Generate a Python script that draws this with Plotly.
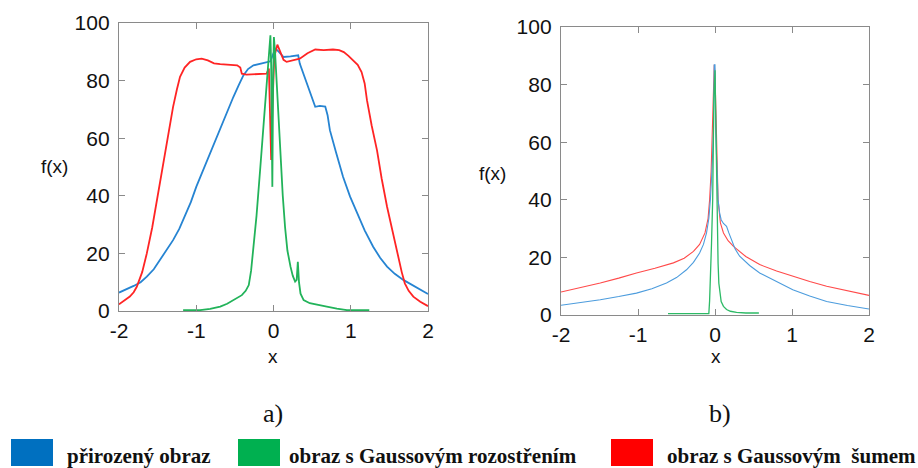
import plotly.graph_objects as go

# ---- Data: panel a) ----
a_blue_x = [-2.0, -1.9, -1.81, -1.72, -1.64, -1.55, -1.47, -1.38, -1.30, -1.22, -1.15, -1.07, -1.0, -0.91, -0.82, -0.73, -0.65, -0.58, -0.52, -0.45, -0.39, -0.33, -0.26, -0.15, -0.04, 0.0, 0.03, 0.07, 0.13, 0.22, 0.32, 0.34, 0.44, 0.54, 0.60, 0.67, 0.70, 0.73, 0.81, 0.90, 0.99, 1.08, 1.18, 1.29, 1.38, 1.47, 1.57, 1.68, 1.84, 2.0]
a_blue_y = [6.4, 7.5, 8.7, 10.0, 11.9, 14.5, 17.7, 21.0, 24.6, 28.5, 32.7, 37.8, 43.1, 49.0, 54.7, 60.5, 66.2, 70.7, 74.3, 78.4, 81.8, 84.0, 85.3, 86.0, 86.7, 89.5, 91.0, 90.0, 88.2, 88.4, 88.8, 85.9, 78.5, 70.9, 71.2, 71.0, 68.0, 62.8, 55.0, 46.6, 39.8, 33.9, 28.0, 22.3, 18.5, 15.4, 12.9, 10.8, 8.3, 5.9]

a_red_x = [-2.0, -1.92, -1.86, -1.81, -1.77, -1.70, -1.64, -1.57, -1.51, -1.44, -1.38, -1.34, -1.30, -1.25, -1.21, -1.15, -1.08, -1.0, -0.93, -0.85, -0.77, -0.69, -0.55, -0.47, -0.43, -0.41, -0.35, -0.26, -0.09, -0.06, -0.045, -0.03, -0.015, -0.005, 0.01, 0.05, 0.09, 0.13, 0.17, 0.25, 0.34, 0.44, 0.54, 0.65, 0.77, 0.85, 0.91, 0.97, 1.03, 1.09, 1.14, 1.18, 1.21, 1.27, 1.34, 1.40, 1.47, 1.54, 1.60, 1.66, 1.70, 1.75, 1.81, 1.90, 2.0]
a_red_y = [2.3, 3.8, 5.0, 6.5, 8.4, 13.5, 20.0, 29.0, 38.5, 49.5, 59.3, 65.5, 70.9, 77.0, 81.3, 84.5, 86.5, 87.4, 87.6, 87.0, 86.0, 85.7, 85.5, 85.3, 84.5, 82.4, 82.1, 82.2, 82.4, 84.2, 70.0, 52.4, 70.0, 80.0, 88.2, 92.5, 90.0, 87.2, 86.5, 87.0, 87.6, 89.5, 90.8, 90.6, 90.8, 90.6, 89.9, 88.6, 87.1, 85.5, 83.0, 79.0, 73.2, 64.5, 55.8, 46.0, 36.2, 27.5, 20.0, 13.5, 9.6, 7.0, 5.0, 3.2, 1.7]

a_green_x = [-1.17, -1.05, -0.95, -0.82, -0.69, -0.60, -0.52, -0.45, -0.41, -0.36, -0.32, -0.29, -0.26, -0.22, -0.17, -0.13, -0.09, -0.06, -0.04, -0.03, -0.015, -0.005, 0.005, 0.02, 0.04, 0.065, 0.09, 0.12, 0.15, 0.18, 0.22, 0.25, 0.28, 0.30, 0.315, 0.33, 0.35, 0.39, 0.47, 0.58, 0.69, 0.82, 0.95, 1.10, 1.24]
a_green_y = [0.3, 0.3, 0.3, 0.7, 1.5, 2.5, 3.8, 4.8, 5.5, 7.0, 9.0, 14.0, 21.2, 33.0, 50.1, 64.0, 79.0, 90.0, 95.7, 85.0, 43.1, 80.0, 95.1, 90.0, 79.0, 65.0, 52.0, 40.0, 29.0, 21.0, 15.4, 12.2, 10.2, 10.8, 17.1, 10.0, 6.0, 3.8, 2.7, 2.0, 1.5, 0.8, 0.3, 0.3, 0.3]

# ---- Data: panel b) ----
b_red_x = [-2.0, -1.75, -1.49, -1.25, -1.02, -0.78, -0.54, -0.40, -0.28, -0.20, -0.13, -0.09, -0.07, -0.05, -0.035, -0.02, -0.01, 0.0, 0.01, 0.025, 0.04, 0.07, 0.11, 0.17, 0.24, 0.40, 0.58, 0.80, 1.01, 1.23, 1.45, 1.72, 2.0]
b_red_y = [8.0, 9.5, 11.1, 12.8, 14.6, 16.2, 18.1, 19.7, 22.1, 24.5, 28.5, 33.5, 40.0, 50.0, 62.0, 75.0, 86.9, 84.0, 72.0, 52.0, 40.0, 32.0, 28.5, 25.8, 23.8, 20.3, 17.5, 15.3, 13.4, 11.6, 10.0, 8.4, 6.8]

b_blue_x = [-2.0, -1.75, -1.49, -1.25, -1.02, -0.82, -0.63, -0.50, -0.37, -0.28, -0.20, -0.15, -0.11, -0.08, -0.06, -0.04, -0.02, -0.01, 0.0, 0.01, 0.025, 0.04, 0.06, 0.08, 0.11, 0.15, 0.18, 0.21, 0.26, 0.32, 0.45, 0.58, 0.80, 1.01, 1.23, 1.45, 1.72, 2.0]
b_blue_y = [3.4, 4.3, 5.3, 6.4, 7.6, 9.1, 11.1, 13.0, 15.7, 18.3, 21.5, 24.5, 28.5, 33.5, 40.0, 50.0, 63.2, 86.9, 86.9, 63.2, 48.0, 40.0, 35.5, 33.1, 31.8, 30.8, 28.5, 26.2, 23.0, 20.4, 17.2, 14.6, 11.5, 8.8, 6.6, 4.7, 3.3, 2.1]

b_green_x = [-0.61, -0.08, -0.07, -0.06, -0.045, -0.03, -0.015, 0.0, 0.01, 0.02, 0.03, 0.04, 0.05, 0.065, 0.08, 0.11, 0.15, 0.20, 0.28, 0.40, 0.57]
b_green_y = [0.5, 0.5, 5.0, 11.0, 25.0, 40.0, 75.0, 85.0, 63.0, 42.0, 28.5, 18.0, 11.0, 7.0, 4.7, 3.0, 1.9, 1.3, 0.9, 0.7, 0.7]

x_ticks = [-2, -1, 0, 1, 2]
x_tick_labels = ["-2", "-1", "0", "1", "2"]
y_ticks = [0, 20, 40, 60, 80, 100]

legend_labels = ["přirozený obraz", "obraz s Gaussovým rozostřením", "obraz s Gaussovým\u00a0 šumem"]
legend_colors = ["#0070C0", "#00B050", "#FF0000"]

W, H = 918, 468
fig = go.Figure()

def add(x, y, color, width, xa, ya):
    fig.add_trace(go.Scatter(x=x, y=y, mode="lines", line=dict(color=color, width=width),
                             xaxis=xa, yaxis=ya, showlegend=False, hoverinfo="skip"))

add(a_blue_x, a_blue_y, "#2684D2", 1.8, "x", "y")
add(a_red_x, a_red_y, "#FF2424", 1.8, "x", "y")
add(a_green_x, a_green_y, "#22B35A", 1.8, "x", "y")

add(b_red_x, b_red_y, "#FF4A4A", 1.1, "x2", "y2")
add(b_blue_x, b_blue_y, "#4C9CDD", 1.1, "x2", "y2")
add(b_green_x, b_green_y, "#2DBA66", 1.3, "x2", "y2")

tickfont = dict(family="Liberation Sans, Arial, sans-serif", size=21, color="#111")
axis_common = dict(showline=True, linecolor="#8a8a8a", linewidth=1.3, mirror="ticks",
                   ticks="inside", ticklen=6, tickcolor="#8a8a8a", tickwidth=1.3,
                   showgrid=False, zeroline=False, tickfont=tickfont, automargin=False)

def px(v):
    return v / W

def py(v):
    return 1 - v / H

xa = dict(range=[-2, 2], tickvals=x_ticks, ticktext=x_tick_labels, ticklabelstandoff=1, **axis_common)
ya = dict(range=[0, 100], tickvals=y_ticks, ticklabelstandoff=4, **axis_common)

fig.update_layout(
    template="none",
    width=W, height=H, margin=dict(l=0, r=0, t=0, b=0, pad=0),
    paper_bgcolor="white", plot_bgcolor="white",
    xaxis=dict(domain=[px(119), px(428)], anchor="y", **xa),
    yaxis=dict(domain=[py(311), py(23)], anchor="x", **ya),
    xaxis2=dict(domain=[px(561), px(869)], anchor="y2", **xa),
    yaxis2=dict(domain=[py(315), py(27)], anchor="x2", **ya),
)

ann = []
labfont = dict(family="Liberation Sans, Arial, sans-serif", size=19, color="#111")
ann.append(dict(x=px(54), y=py(166), text="f(x)", font=labfont))
ann.append(dict(x=px(492), y=py(173), text="f(x)", font=labfont))
ann.append(dict(x=px(273), y=py(356), text="x", font=labfont))
ann.append(dict(x=px(716), y=py(356), text="x", font=labfont))
capfont = dict(family="Liberation Serif, Times New Roman, serif", size=26, color="#111")
ann.append(dict(x=px(273), y=py(413), text="a)", font=capfont))
ann.append(dict(x=px(720), y=py(413), text="b)", font=capfont))

legfont = dict(family="Liberation Serif, Times New Roman, serif", size=21, color="#111")
sq_x = [11, 238, 611]
txt_x = [65, 287, 665]
shapes = []
for sx, tx, lab, col in zip(sq_x, txt_x, legend_labels, legend_colors):
    shapes.append(dict(type="rect", xref="paper", yref="paper", x0=px(sx), x1=px(sx + 42), y0=py(466), y1=py(439),
                       fillcolor=col, line=dict(width=0)))
    ann.append(dict(x=px(tx), y=py(456), xanchor="left", text="<b>" + lab + "</b>", font=legfont))

for a in ann:
    a.setdefault("xref", "paper")
    a.setdefault("yref", "paper")
    a.setdefault("showarrow", False)
    a.setdefault("xanchor", "center")
    a.setdefault("yanchor", "middle")
fig.update_layout(annotations=ann, shapes=shapes)

fig.write_html("out.html")
